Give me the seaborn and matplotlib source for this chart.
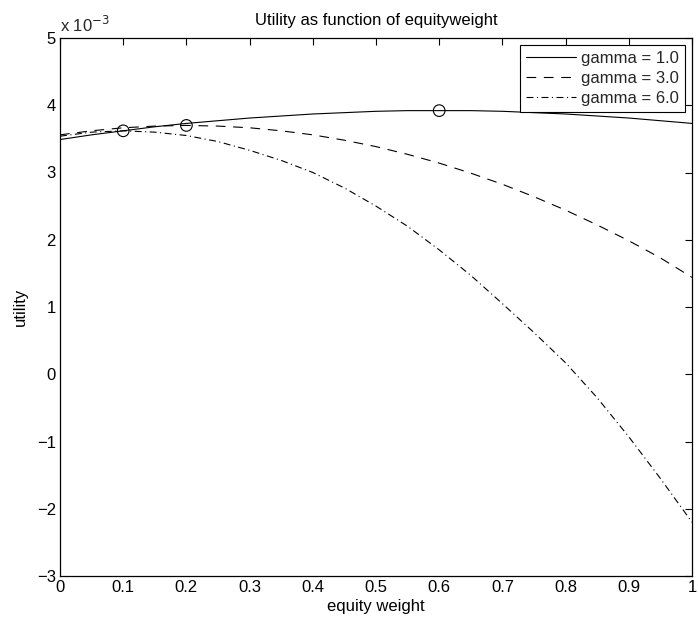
import numpy as np
import pandas as pd
import matplotlib
matplotlib.use("Agg")
import matplotlib.pyplot as plt
import seaborn as sns

# equity weights
weights = [0.00, 0.05, 0.10, 0.15, 0.20, 0.25, 0.30, 0.35, 0.40, 0.45, 0.50,
           0.55, 0.60, 0.65, 0.70, 0.75, 0.80, 0.85, 0.90, 0.95, 1.00]
# utility values (x 10^-3)
util_g1 = [3.49, 3.56, 3.62, 3.68, 3.73, 3.77, 3.81, 3.84, 3.87, 3.89, 3.91,
           3.92, 3.92, 3.92, 3.91, 3.89, 3.87, 3.84, 3.81, 3.77, 3.73]
util_g3 = [3.56, 3.62, 3.665, 3.69, 3.70, 3.69, 3.665, 3.62, 3.56, 3.48, 3.385,
           3.27, 3.14, 2.99, 2.825, 2.64, 2.44, 2.22, 1.985, 1.73, 1.44]
util_g6 = [3.54, 3.60, 3.62, 3.60, 3.55, 3.46, 3.33, 3.18, 3.00, 2.77, 2.50,
           2.20, 1.85, 1.47, 1.05, 0.62, 0.17, -0.35, -0.93, -1.55, -2.20]
labels = ["gamma = 1.0", "gamma = 3.0", "gamma = 6.0"]
# optimum markers
opt_w = [0.6, 0.2, 0.1]
opt_u = [3.92, 3.70, 3.62]

sns.set_theme(style="white")
plt.rcParams['font.family'] = ['Liberation Sans', 'DejaVu Sans']
plt.rcParams['lines.scale_dashes'] = False

FS = 12

fig = plt.figure(figsize=(6.98, 6.21), dpi=100)
ax = fig.add_axes([60/698, 45/621, 632/698, 538/621])

styles = [
    dict(linestyle='-'),
    dict(dashes=(7.0, 5.5)),
    dict(dashes=(5.0, 2.5, 0.8, 2.5)),
]
for u, lab, st in zip([util_g1, util_g3, util_g6], labels, styles):
    df = pd.DataFrame({"w": weights, "u": u})
    sns.lineplot(data=df, x="w", y="u", ax=ax, color='black', linewidth=0.8,
                 label=lab, **st)

sns.scatterplot(x=opt_w, y=opt_u, ax=ax, marker='o', s=70, facecolor='none',
                edgecolor='black', linewidth=0.8, zorder=5, legend=False)

ax.set_xlim(0, 1)
ax.set_ylim(-3, 5)
ax.set_xticks(np.arange(0, 1.01, 0.1))
ax.set_xticklabels(["0", "0.1", "0.2", "0.3", "0.4", "0.5", "0.6", "0.7", "0.8", "0.9", "1"])
ax.set_yticks(range(-3, 6))
ax.set_yticklabels(["\u22123", "\u22122", "\u22121", "0", "1", "2", "3", "4", "5"])
ax.tick_params(direction='in', length=5, width=0.8, top=True, right=True,
               labelsize=FS, colors='black', pad=3)
for sp in ax.spines.values():
    sp.set_color('black')
    sp.set_linewidth(0.9)

ax.set_xlabel("equity weight", fontsize=FS, color='black', labelpad=3)
ax.set_ylabel("utility", fontsize=FS, color='black', labelpad=6)
ax.set_title("Utility as function of equityweight", fontsize=FS, color='black', pad=9)
ax.text(0.0, 1.006, r"x 10$^{-3}$", transform=ax.transAxes, fontsize=FS,
        ha='left', va='bottom')

leg = ax.legend(loc='upper right', fontsize=FS, frameon=True, fancybox=False,
                edgecolor='black', borderaxespad=0.45, handlelength=3.0,
                borderpad=0.35, labelspacing=0.3, handletextpad=0.3,
                markerfirst=True)
leg.get_frame().set_linewidth(0.8)
leg.get_frame().set_alpha(1)

fig.savefig("out.png", dpi=100)
